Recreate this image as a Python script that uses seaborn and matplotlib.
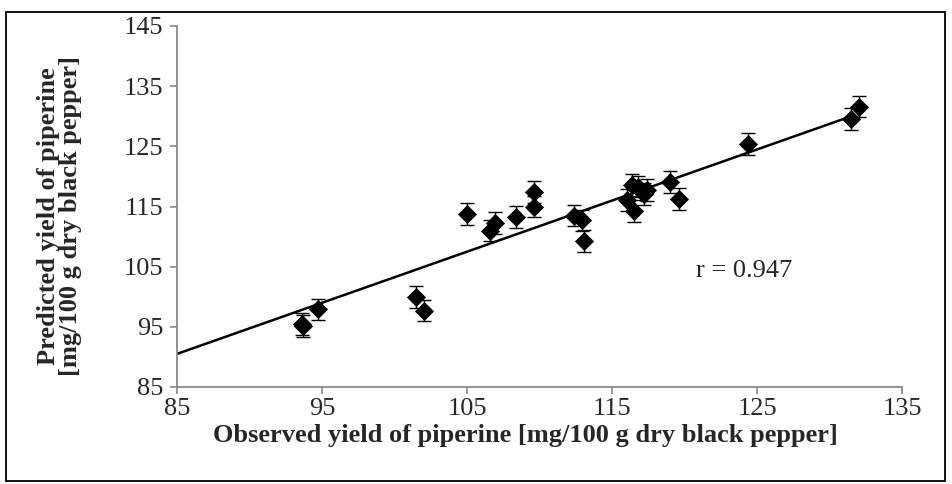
import numpy as np
import pandas as pd
import matplotlib
matplotlib.use("Agg")
import matplotlib.pyplot as plt
from matplotlib.patches import Rectangle
import seaborn as sns

# Observed vs. predicted piperine yield (mg/100 g dry black pepper)
observed = [93.6, 93.7, 94.7, 101.5, 102.0, 105.0, 106.6, 106.9, 108.4, 109.6,
            109.6, 112.4, 112.9, 113.1, 116.0, 116.4, 116.8, 116.5, 117.2, 117.4,
            119.0, 119.6, 124.4, 131.5, 132.0]
predicted = [95.5, 95.1, 97.9, 100.0, 97.7, 113.7, 111.0, 112.3, 113.3, 117.4,
             115.0, 113.5, 112.7, 109.3, 116.1, 118.6, 118.3, 114.3, 117.1, 117.7,
             119.1, 116.3, 125.4, 129.5, 131.6]
pred_err = [1.8] * len(observed)

# linear trend line end points
trend_x = [85.0, 131.5]
trend_y = [90.5, 130.0]
r_label = "r = 0.947"

x_ticks = [85, 95, 105, 115, 125, 135]
y_ticks = [85, 95, 105, 115, 125, 135, 145]

df = pd.DataFrame({"observed": observed, "predicted": predicted, "err": pred_err})
trend = pd.DataFrame({"x": trend_x, "y": trend_y})

sns.set_theme(style="white")
plt.rcParams["font.family"] = ["Liberation Serif", "DejaVu Serif"]

fig = plt.figure(figsize=(9.52, 4.84), dpi=100)
ax = fig.add_axes([177 / 952, 1 - 387 / 484, (902 - 177) / 952, (387 - 26) / 484])

# outer frame around the whole chart
fig.patches.append(Rectangle((6 / 952, 3 / 484), 939 / 952, 469 / 484,
                             transform=fig.transFigure, fill=False,
                             edgecolor="black", linewidth=1.3, zorder=0))

sns.lineplot(data=trend, x="x", y="y", ax=ax, color="black", linewidth=1.8,
             zorder=2)

ax.errorbar(df["observed"], df["predicted"], yerr=df["err"], fmt="none",
            ecolor="black", elinewidth=1.0, capsize=5, capthick=1.0,
            zorder=3)
sns.scatterplot(data=df, x="observed", y="predicted", ax=ax, marker="D",
                s=85, color="black", edgecolor="black", linewidth=0.5,
                zorder=4)

ax.set_xlim(85, 135)
ax.set_ylim(85, 145)
ax.set_xticks(x_ticks)
ax.set_yticks(y_ticks)
ax.tick_params(axis="both", labelsize=19, length=5, width=1.2,
               color="#888888", direction="out", bottom=True, left=True)
ax.tick_params(axis="x", pad=3)
ax.tick_params(axis="y", pad=5)

for side in ["top", "right"]:
    ax.spines[side].set_visible(False)
for side in ["left", "bottom"]:
    ax.spines[side].set_color("#888888")
    ax.spines[side].set_linewidth(1.3)

ax.set_xlabel("Observed yield of piperine [mg/100 g dry black pepper]",
              fontsize=19, fontweight="bold", labelpad=3)
ax.set_ylabel("Predicted yield of piperine\n[mg/100 g dry black pepper]",
              fontsize=19, fontweight="bold", labelpad=30, linespacing=0.95)
ax.xaxis.label.set_x(0.481)
ax.yaxis.label.set_y(0.474)

ax.text(120.8, 104.2, r_label, fontsize=19, ha="left", va="center")

fig.savefig("out.png", dpi=100)
